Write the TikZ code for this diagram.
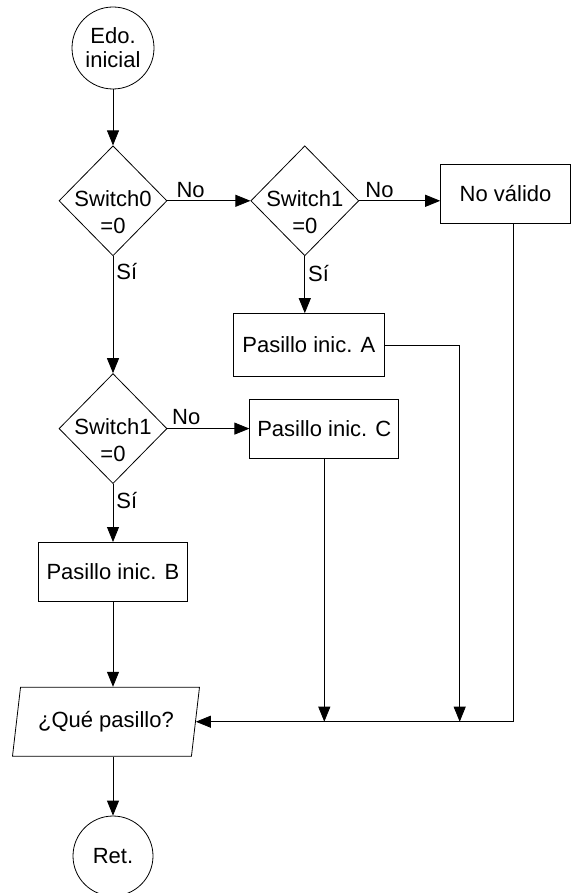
\documentclass[tikz,border=0pt]{standalone}
\usepackage{fontspec}
\setmainfont{Liberation Sans}
\usetikzlibrary{shapes.geometric,arrows.meta,positioning,calc}
\tikzset{
  % Terminal: circle
  term/.style={draw, circle, minimum size=82pt, inner sep=1pt, align=center, line width=0.8pt},
  % Decision: diamond, size fixed, text does not widen it
  decis/.style={draw, diamond, minimum width=108pt, minimum height=110pt, inner sep=0pt,
                align=center, text height=66pt, text depth=0pt, line width=0.8pt,
                font=\fontsize{22}{27}\selectfont},
  % Process box
  pbox/.style={draw, rectangle, minimum width=149pt, minimum height=59pt, align=center, line width=0.8pt},
  % Input / output: parallelogram
  iobox/.style={draw, trapezium, trapezium left angle=72, trapezium right angle=108,
                trapezium stretches body, minimum width=187pt, minimum height=69pt,
                inner sep=2pt, line width=0.8pt},
  % Arrows
  flowarr/.style={-{Triangle[length=15pt,width=12pt]}, line width=0.8pt},
  lbl/.style={inner sep=3pt}
}

\begin{document}
\begin{tikzpicture}[x=1pt, y=1pt, font=\fontsize{22}{24}\selectfont]
\useasboundingbox (0,0) rectangle (572,-893);

% ============== LEFT COLUMN ==============
\node[term] (start) at (113,-48) {Edo.\\inicial};
\node[decis, below=56pt of start] (sw0) {\makebox[0pt]{Switch0}\\\makebox[0pt]{=0}};
\node[decis, below=117pt of sw0] (sw1b) {\makebox[0pt]{Switch1}\\\makebox[0pt]{=0}};
\node[pbox, below=58pt of sw1b] (pasB) {Pasillo inic. B};
\node[iobox, below=85pt of pasB, xshift=-7pt] (que) {¿Qué pasillo?};
\node[term, below=59pt of que, xshift=7pt, minimum size=80pt] (ret) {Ret.};

% ============== RIGHT BRANCHES ==============
\node[decis, right=83pt of sw0] (sw1a) {\makebox[0pt]{Switch1}\\\makebox[0pt]{=0}};
\node[pbox, right=81pt of sw1a, yshift=7pt, minimum width=130pt] (noval) {No válido};
\node[pbox, below=57pt of sw1a, xshift=4pt, minimum width=151pt, minimum height=63pt] (pasA) {Pasillo inic. A};
\node[pbox, right=82pt of sw1b] (pasC) {Pasillo inic. C};

% ============== CONNECTORS ==============
\draw[flowarr] (start) -- (sw0);
\draw[flowarr] (sw0.east) -- node[lbl, above, pos=0.28] {No} (sw1a.west);
\draw[flowarr] (sw0.south) -- node[lbl, right, pos=0.13] {Sí} (sw1b.north);
\draw[flowarr] (sw1a.east) -- node[lbl, above, pos=0.25] {No} (sw1a.east -| noval.west);
\draw[flowarr] (sw1a.south) -- node[lbl, right, pos=0.3] {Sí} (sw1a.south |- pasA.north);
\draw[flowarr] (sw1b.east) -- node[lbl, above, pos=0.23] {No} (pasC.west);
\draw[flowarr] (sw1b.south) -- node[lbl, right, pos=0.28] {Sí} (pasB.north);
\draw[flowarr] (pasB.south) -- (pasB.south |- que.north);
\draw[flowarr] (que.south -| ret.north) -- (ret.north);

% returns into the input box
\coordinate (tapA) at ([xshift=75pt]pasA.east |- que.east);
\draw[flowarr] ([xshift=8pt]noval.south) |- (que.east);
\draw[flowarr] (pasA.east) -| (tapA);
\draw[flowarr] (pasC.south) -- (pasC.south |- que.east);

\end{tikzpicture}
\end{document}
